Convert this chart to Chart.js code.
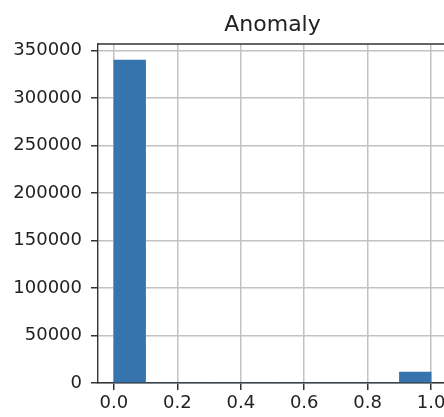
<!DOCTYPE html>
<html>
<head>
<meta charset="utf-8">
<script src="https://cdn.jsdelivr.net/npm/chart.js@4.4.0/dist/chart.umd.min.js"></script>
<style>
  html, body { margin: 0; padding: 0; background: #fff; overflow: hidden; }
  #wrap { width: 460px; height: 417px; }
</style>
</head>
<body>
<div id="wrap"><canvas id="chart" width="460" height="417"></canvas></div>
<script>
const chartTitle = 'Anomaly';
const binCenters = [0.05, 0.15, 0.25, 0.35, 0.45, 0.55, 0.65, 0.75, 0.85, 0.95];
const counts = [340000, 0, 0, 0, 0, 0, 0, 0, 0, 11500];
const xTicks = [0, 0.2, 0.4, 0.6, 0.8, 1.0];
const yTicks = [0, 50000, 100000, 150000, 200000, 250000, 300000, 350000];

const tickFont = { family: 'DejaVu Sans', size: 18 };

// top/right spines and a title centred over the axes, like matplotlib
const frame = {
  id: 'frame',
  afterDraw(chart) {
    const a = chart.chartArea;
    const ctx = chart.ctx;
    ctx.save();
    ctx.strokeStyle = '#333';
    ctx.lineWidth = 1.4;
    ctx.beginPath();
    ctx.moveTo(a.left, a.top);
    ctx.lineTo(a.right, a.top);
    ctx.lineTo(a.right, a.bottom);
    ctx.stroke();

    ctx.fillStyle = '#222';
    ctx.font = '22px "DejaVu Sans"';
    ctx.textAlign = 'center';
    ctx.textBaseline = 'alphabetic';
    ctx.fillText(chartTitle, (a.left + a.right) / 2, 31);
    ctx.restore();
  }
};

new Chart(document.getElementById('chart'), {
  type: 'bar',
  data: {
    datasets: [{
      data: binCenters.map((x, i) => ({ x: x, y: counts[i] })),
      backgroundColor: '#3674ae',
      borderWidth: 0,
      barPercentage: 1,
      categoryPercentage: 1
    }]
  },
  options: {
    responsive: false,
    animation: false,
    layout: { padding: { top: 44, right: 13 } },
    plugins: {
      legend: { display: false },
      tooltip: { enabled: false },
      title: { display: false }
    },
    scales: {
      x: {
        type: 'linear',
        min: -0.05,
        max: 1.05,
        offset: false,
        afterBuildTicks: s => { s.ticks = xTicks.map(v => ({ value: v })); },
        afterFit: s => { s.height = 34; },
        ticks: {
          color: '#222',
          font: tickFont,
          padding: 3,
          maxRotation: 0,
          callback: v => v.toFixed(1)
        },
        grid: { offset: false, color: '#c2c2c2', lineWidth: 1.5, tickColor: '#333', tickLength: 7 },
        border: { color: '#333', width: 1.4 }
      },
      y: {
        min: 0,
        max: 357000,
        afterBuildTicks: s => { s.ticks = yTicks.map(v => ({ value: v })); },
        afterFit: s => { s.width = 98; },
        ticks: {
          color: '#222',
          font: tickFont,
          padding: 9,
          callback: v => String(v)
        },
        grid: { color: '#c2c2c2', lineWidth: 1.5, tickColor: '#333', tickLength: 7 },
        border: { color: '#333', width: 1.4 }
      }
    }
  },
  plugins: [frame]
});
</script>
</body>
</html>
